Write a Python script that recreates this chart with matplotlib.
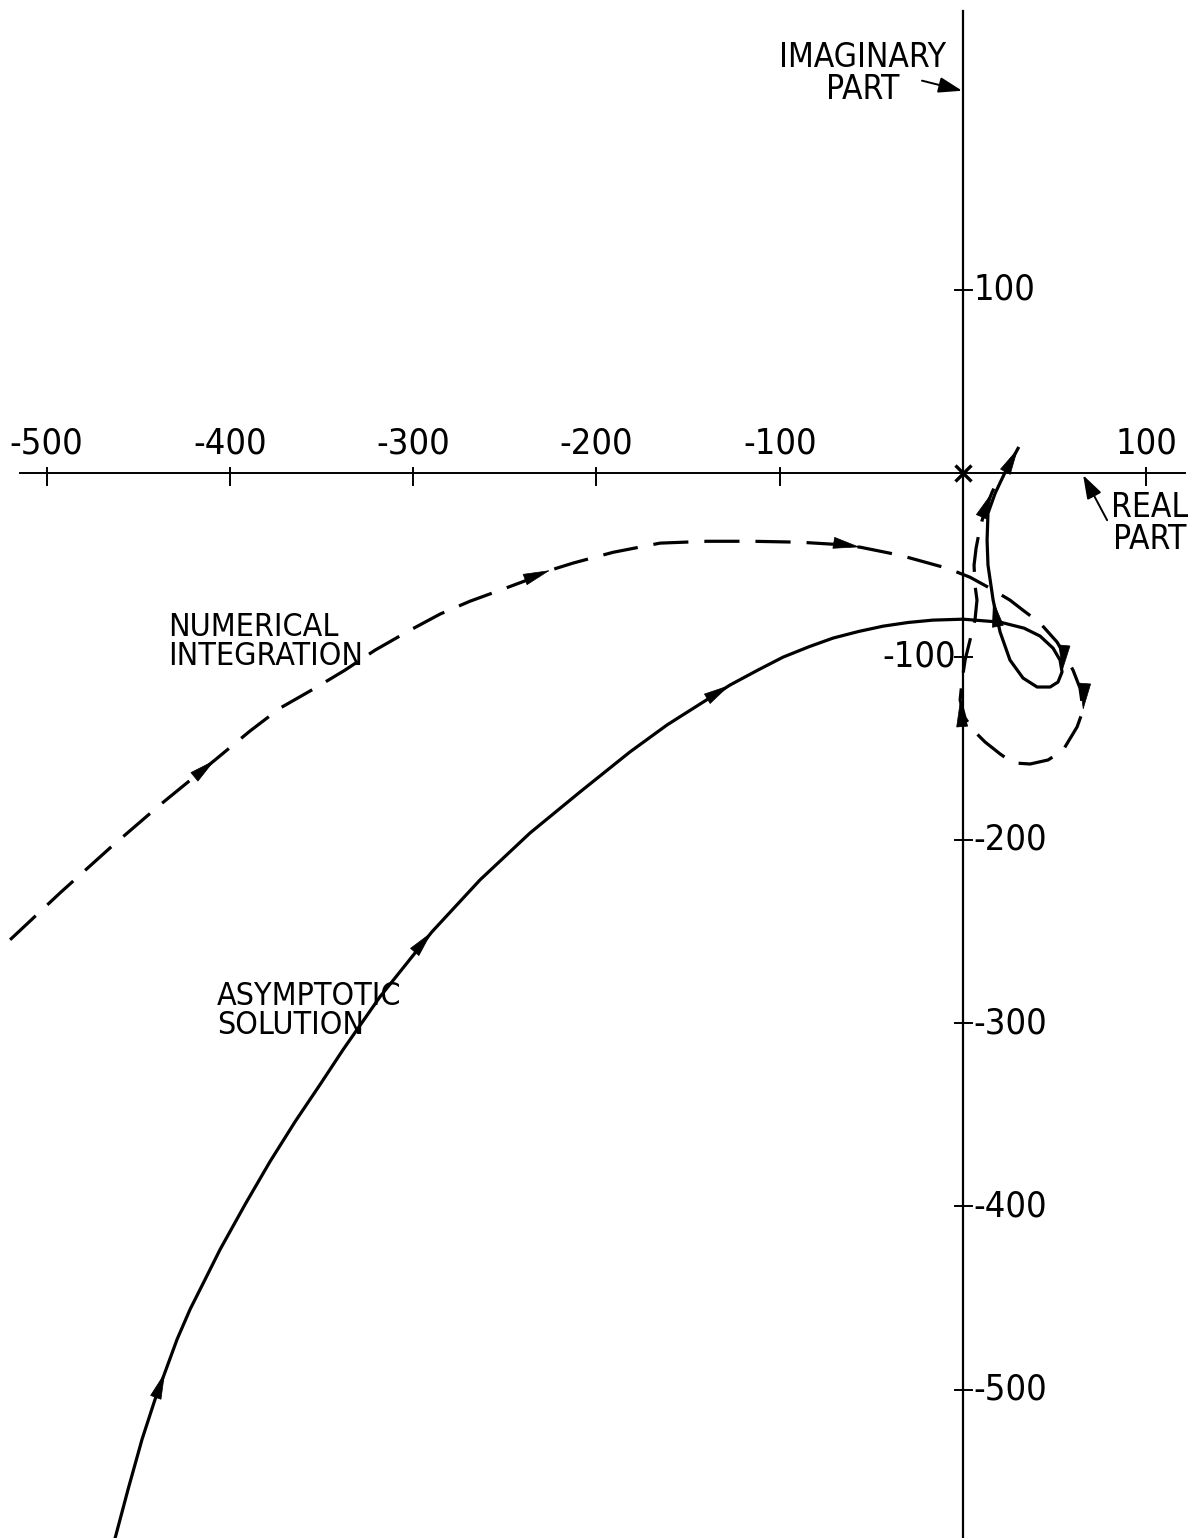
import numpy as np
import matplotlib
matplotlib.use('Agg')
import matplotlib.pyplot as plt

plt.rcParams['font.family'] = ['DejaVu Sans']
plt.rcParams['font.stretch'] = 'condensed'

# asymptotic solution (real part, imaginary part)
asym_re = [-462.6, -455.5, -447.9, -440.8, -435.4, -428.8, -421.7, -413.5, -405.3, -391.7,
           -378.1, -364.4, -350.8, -338.2, -318.1, -289.7, -263.5, -236.2, -208.9, -181.7,
           -161.5, -127.1, -112.0, -98.2, -84.0, -70.9, -57.0, -43.6, -30.0, -16.4,
           0.0, 20.2, 33.3, 42.0, 49.1, 52.9, 54.0, 51.8, 47.5, 40.4,
           32.7, 25.6, 20.2, 16.4, 13.6, 13.1, 13.6, 17.5, 22.9, 30.0]
asym_im = [-580.9, -554.2, -527.0, -505.2, -490.5, -472.5, -456.1, -439.8, -423.4, -398.9,
           -375.5, -353.7, -333.5, -314.4, -285.6, -250.1, -221.8, -196.2, -173.8, -152.0,
           -137.3, -115.5, -107.4, -100.3, -94.6, -89.9, -86.3, -83.4, -81.4, -80.1,
           -79.6, -81.2, -84.5, -88.8, -95.4, -101.9, -108.4, -113.9, -116.6, -116.6,
           -111.7, -101.9, -86.6, -69.2, -50.1, -36.5, -21.8, -10.9, 0.5, 13.6]

# numerical integration (real part, imaginary part)
num_re = [-519.9, -492.6, -465.4, -438.1, -408.1, -389.0, -372.6, -353.5, -337.2, -320.8,
          -301.7, -285.3, -269.0, -252.6, -237.9, -225.3, -212.8, -190.9, -165.3, -139.7,
          -114.6, -88.9, -70.9, -56.2, -34.4, -8.7, 3.8, 14.7, 25.6, 32.7,
          42.0, 51.3, 60.0, 63.8, 65.5, 62.2, 54.6, 46.4, 36.6, 27.3,
          20.2, 12.0, 5.5, 1.1, -1.6, -0.5, 1.1, 3.8, 6.5, 7.6,
          6.5, 6.0, 7.1, 9.3, 12.0, 15.8, 19.1]
num_im = [-254.5, -228.9, -204.4, -180.9, -156.4, -140.6, -128.1, -117.2, -107.4, -96.5,
          -85.6, -76.8, -69.8, -63.8, -58.3, -52.9, -49.0, -43.1, -38.1, -37.1,
          -37.1, -37.6, -38.7, -40.3, -44.7, -51.8, -56.7, -62.7, -69.2, -74.7,
          -81.7, -92.1, -107.4, -117.2, -129.2, -138.4, -151.0, -156.4, -158.6, -158.0,
          -153.1, -146.6, -140.1, -133.5, -123.7, -112.8, -101.9, -91.0, -80.1, -69.2,
          -61.0, -50.1, -40.9, -29.4, -20.2, -10.4, -3.8]

# points along each curve that carry a direction arrow
asym_arrows = [4, 15, 21, 36, 43, 49]
num_arrows = [4, 15, 23, 34, 44, 55]

x_ticks = [-500, -400, -300, -200, -100, 100]
y_ticks = [100, -100, -200, -300, -400, -500]

fig = plt.figure(figsize=(11.92, 15.39), dpi=100)
ax = fig.add_axes([0, 0, 1, 1])
ax.set_xlim(-525.4, 124.9)
ax.set_ylim(-581.0, 257.8)
ax.set_aspect('equal')
ax.axis('off')

# coordinate axes
ax.plot([-514.5, 121.0], [0, 0], color='black', lw=1.4)
ax.plot([0, 0], [-581.0, 252.3], color='black', lw=1.6)
ax.plot(0, 0, marker='x', color='black', ms=11, mew=2.4)

for t in x_ticks:
    ax.plot([t, t], [2.7, -6.5], color='black', lw=1.4)
    ax.text(t, 7.0, str(t), ha='center', va='bottom', fontsize=26)
for t in y_ticks:
    ax.plot([-4.4, 4.9], [t, t], color='black', lw=1.4)
    if t == -100:
        ax.text(-4.0, t, str(t), ha='right', va='center', fontsize=26)
    else:
        ax.text(5.5, t, str(t), ha='left', va='center', fontsize=26)

# curves
ax.plot(asym_re, asym_im, color='black', lw=2.3, solid_joinstyle='round')
ax.plot(num_re, num_im, color='black', lw=2.3, linestyle=(0, (11, 5)))


def add_arrows(xs, ys, idx):
    for i in idx:
        j0 = max(i - 1, 0)
        j1 = min(i + 1, len(xs) - 1)
        dx = xs[j1] - xs[j0]
        dy = ys[j1] - ys[j0]
        n = np.hypot(dx, dy)
        ax.annotate('', xy=(xs[i], ys[i]),
                    xytext=(xs[i] - 14 * dx / n, ys[i] - 14 * dy / n),
                    arrowprops=dict(arrowstyle='-|>,head_length=1.0,head_width=0.22',
                                    mutation_scale=18, color='black', lw=0.5,
                                    shrinkA=0, shrinkB=0))


add_arrows(asym_re, asym_im, asym_arrows)
add_arrows(num_re, num_im, num_arrows)

# labels
lab = dict(ha='center', va='center', multialignment='center',
           fontsize=24, linespacing=0.95)
ax.text(-55.0, 218.0, 'IMAGINARY\nPART', **lab)
ax.annotate('', xy=(-0.5, 208.7), xytext=(-22.4, 214.2),
            arrowprops=dict(arrowstyle='-|>,head_length=0.9,head_width=0.3',
                            mutation_scale=16, color='black', lw=1.4,
                            shrinkA=0, shrinkB=0))

ax.text(102.0, -27.3, 'REAL\nPART', **lab)
ax.annotate('', xy=(65.5, -1.0), xytext=(78.6, -25.6),
            arrowprops=dict(arrowstyle='-|>,head_length=0.9,head_width=0.3',
                            mutation_scale=16, color='black', lw=1.4,
                            shrinkA=0, shrinkB=0))

side = dict(ha='left', va='center', multialignment='left',
            fontsize=23, linespacing=0.92)
ax.text(-433.7, -91.8, 'NUMERICAL\nINTEGRATION', **side)
ax.text(-407.0, -293.5, 'ASYMPTOTIC\nSOLUTION', **side)

fig.savefig('out.png', dpi=100)
